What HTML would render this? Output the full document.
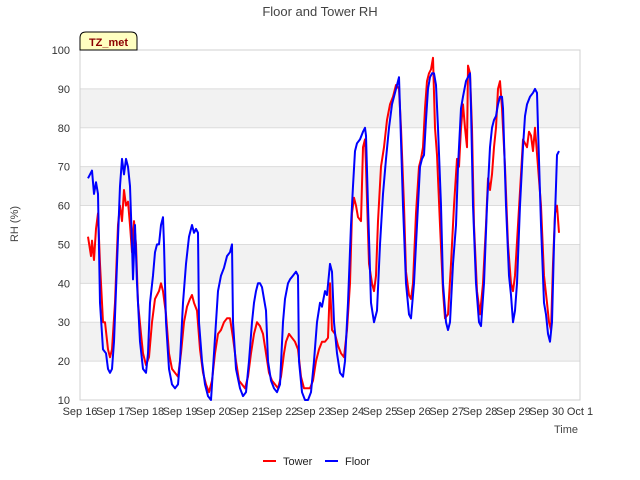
<!DOCTYPE html>
<html><head><meta charset="utf-8"><style>
body{margin:0;background:#fff;font-family:"Liberation Sans",sans-serif}
svg{display:block}
</style></head><body>
<svg id="chart" width="640" height="480" xmlns="http://www.w3.org/2000/svg">
<text x="320" y="16" text-anchor="middle" font-size="13" fill="#444">Floor and Tower RH</text>
<text transform="translate(18,224) rotate(-90)" text-anchor="middle" font-size="11" fill="#444">RH (%)</text>
<text x="566" y="433" text-anchor="middle" font-size="11" fill="#444">Time</text>
<g id="grid"></g>
<g id="series"></g>
<g id="ticks"></g>
<g>
<path d="M80,50 L80,38 Q80,32 86,32 L131,32 Q137,32 137,38 L137,50 Z" fill="#ffffc0" stroke="#000" stroke-width="1"/>
<text x="108.5" y="46" text-anchor="middle" font-size="11" font-weight="bold" fill="#8b0000">TZ_met</text>
</g>
<g>
<g><line x1="263" y1="461" x2="276" y2="461" stroke="#f00" stroke-width="2"/><text x="283" y="465" font-size="11" fill="#222">Tower</text></g>
<g><line x1="325" y1="461" x2="338" y2="461" stroke="#00f" stroke-width="2"/><text x="345" y="465" font-size="11" fill="#222">Floor</text></g>
</g>
</svg>
<script>
const yTicks=[10,20,30,40,50,60,70,80,90,100];
const xTickLabels=["Sep 16","Sep 17","Sep 18","Sep 19","Sep 20","Sep 21","Sep 22","Sep 23","Sep 24","Sep 25","Sep 26","Sep 27","Sep 28","Sep 29","Sep 30","Oct 1"];
const floorTime=[0.24,0.30,0.36,0.42,0.48,0.54,0.60,0.69,0.78,0.84,0.90,0.96,1.02,1.11,1.20,1.26,1.32,1.38,1.44,1.50,1.56,1.59,1.65,1.71,1.80,1.89,1.98,2.04,2.10,2.19,2.25,2.31,2.37,2.43,2.49,2.52,2.58,2.67,2.76,2.85,2.94,3.00,3.09,3.18,3.27,3.36,3.42,3.48,3.54,3.57,3.66,3.75,3.84,3.93,3.99,4.08,4.14,4.23,4.32,4.41,4.50,4.56,4.59,4.68,4.80,4.89,4.98,5.07,5.16,5.22,5.28,5.34,5.40,5.46,5.52,5.58,5.64,5.73,5.82,5.91,6.00,6.09,6.15,6.24,6.30,6.39,6.48,6.54,6.57,6.66,6.75,6.84,6.93,7.02,7.11,7.20,7.26,7.35,7.41,7.50,7.56,7.62,7.71,7.80,7.89,7.95,8.04,8.13,8.19,8.25,8.31,8.40,8.49,8.55,8.58,8.64,8.73,8.82,8.91,9.00,9.09,9.18,9.27,9.36,9.45,9.54,9.57,9.60,9.69,9.78,9.87,9.93,10.02,10.11,10.20,10.26,10.32,10.38,10.44,10.50,10.56,10.62,10.68,10.74,10.83,10.89,10.98,11.04,11.10,11.19,11.28,11.34,11.43,11.49,11.58,11.64,11.70,11.73,11.79,11.88,11.97,12.03,12.12,12.21,12.30,12.36,12.42,12.48,12.54,12.60,12.66,12.69,12.78,12.87,12.93,12.99,13.05,13.11,13.20,13.29,13.35,13.41,13.50,13.59,13.65,13.71,13.74,13.83,13.92,13.98,14.04,14.10,14.16,14.22,14.28,14.31,14.37];
const floorRH=[67,68,69,63,66,63,35,23,22,18,17,18,25,45,65,72,68,72,70,65,50,41,55,40,25,18,17,22,35,42,48,50,50,55,57,50,30,18,14,13,14,20,35,45,52,55,53,54,53,30,20,14,11,10,18,30,38,42,44,47,48,50,30,18,13,11,12,20,30,35,38,40,40,39,36,33,20,15,13,12,14,30,36,40,41,42,43,42,20,12,10,10,12,20,30,35,34,38,37,45,43,30,22,17,16,20,35,55,65,74,76,77,79,80,78,60,35,30,33,50,63,72,80,86,89,92,93,85,60,40,32,31,40,55,70,72,73,82,90,93,94,94,91,80,60,40,30,28,30,45,55,70,85,88,92,93,94,85,60,40,30,29,40,60,75,80,82,83,86,88,88,85,60,42,37,30,33,40,60,75,83,86,88,89,90,89,80,55,35,32,27,25,30,50,65,73,74];
const towerTime=[0.24,0.33,0.36,0.42,0.48,0.54,0.60,0.69,0.75,0.84,0.90,0.96,1.05,1.14,1.20,1.26,1.32,1.38,1.44,1.50,1.56,1.62,1.68,1.74,1.83,1.89,1.98,2.07,2.16,2.25,2.31,2.37,2.43,2.49,2.58,2.67,2.76,2.85,2.94,3.03,3.12,3.21,3.30,3.36,3.42,3.51,3.60,3.69,3.78,3.87,3.96,4.05,4.14,4.23,4.32,4.41,4.50,4.59,4.68,4.77,4.86,4.95,5.04,5.13,5.22,5.31,5.40,5.49,5.58,5.67,5.76,5.85,5.94,6.03,6.12,6.18,6.27,6.36,6.45,6.54,6.63,6.72,6.81,6.90,6.99,7.08,7.17,7.26,7.35,7.44,7.50,7.56,7.65,7.74,7.83,7.92,8.01,8.10,8.16,8.22,8.28,8.34,8.43,8.49,8.55,8.58,8.67,8.76,8.82,8.88,8.94,9.03,9.12,9.21,9.30,9.39,9.48,9.57,9.63,9.72,9.78,9.87,9.93,9.99,10.08,10.17,10.23,10.29,10.35,10.41,10.47,10.53,10.59,10.65,10.71,10.80,10.89,10.95,11.04,11.13,11.22,11.31,11.37,11.43,11.49,11.55,11.61,11.64,11.70,11.76,11.82,11.91,12.00,12.09,12.18,12.24,12.30,12.36,12.42,12.48,12.54,12.60,12.66,12.75,12.84,12.93,12.99,13.05,13.14,13.23,13.29,13.35,13.41,13.47,13.53,13.59,13.65,13.74,13.83,13.92,14.01,14.07,14.13,14.19,14.25,14.31,14.37];
const towerRH=[52,47,51,46,54,58,45,30,30,23,21,23,35,55,60,56,64,60,61,55,48,56,50,35,27,22,19,21,30,36,37,38,40,38,32,22,18,17,16,22,30,34,36,37,35,33,23,17,14,12,15,22,27,28,30,31,31,26,20,15,14,13,16,22,27,30,29,27,22,17,15,14,13,16,22,25,27,26,25,23,16,13,13,13,15,20,23,25,25,26,40,28,27,24,22,21,28,40,58,62,60,57,56,75,77,70,45,40,38,42,56,70,75,82,86,88,91,90,80,60,43,37,36,40,58,70,72,75,85,92,94,95,98,80,73,55,38,31,32,45,60,72,70,80,86,80,75,96,94,80,55,38,32,40,55,67,64,68,75,80,90,92,85,70,50,40,38,42,55,68,77,76,75,79,78,74,80,70,60,42,35,30,28,45,58,60,53];
const L=80,R=580,T=50,B=400,NS="http://www.w3.org/2000/svg";
function xScale(d){return L+d*(R-L)/15;}
function yScale(v){return B-(v-10)*(B-T)/90;}
function mk(tag,attrs,parent){const e=document.createElementNS(NS,tag);for(const k in attrs)e.setAttribute(k,attrs[k]);parent.appendChild(e);return e;}
const grid=document.getElementById('grid'),ticks=document.getElementById('ticks'),series=document.getElementById('series');
for(let i=0;i<yTicks.length-1;i++){
 if(i%2===1){const r=mk('rect',{x:L,y:yScale(yTicks[i+1]),width:R-L,height:yScale(yTicks[i])-yScale(yTicks[i+1]),fill:'#f2f2f2'},grid);
 
 }
}
yTicks.forEach(v=>{
 const l=mk('line',{x1:L,x2:R,y1:yScale(v),y2:yScale(v),stroke:'#dcdcdc','stroke-width':1},grid);
 
 
 const t=mk('text',{x:L-10,y:yScale(v)+4,'text-anchor':'end','font-size':11,fill:'#333'},ticks);
 t.textContent=v;
 
 
});
const frame=mk('rect',{x:L,y:T,width:R-L,height:B-T,fill:'none',stroke:'#d0d0d0'},grid);


xTickLabels.forEach((s,i)=>{
 const t=mk('text',{x:xScale(i),y:415,'text-anchor':'middle','font-size':11,fill:'#333'},ticks);
 t.textContent=s;
 
 
});
function line(ts,vs,color,name){
 const d=ts.map((t,i)=>(i?'L':'M')+xScale(t).toFixed(1)+','+yScale(vs[i]).toFixed(1)).join('');
 const p=mk('path',{d:d,fill:'none',stroke:color,'stroke-width':2,'stroke-linejoin':'round'},series);
 
 
}
line(towerTime,towerRH,'#ff0000','tower-line');
line(floorTime,floorRH,'#0000ff','floor-line');
</script>
</body></html>
